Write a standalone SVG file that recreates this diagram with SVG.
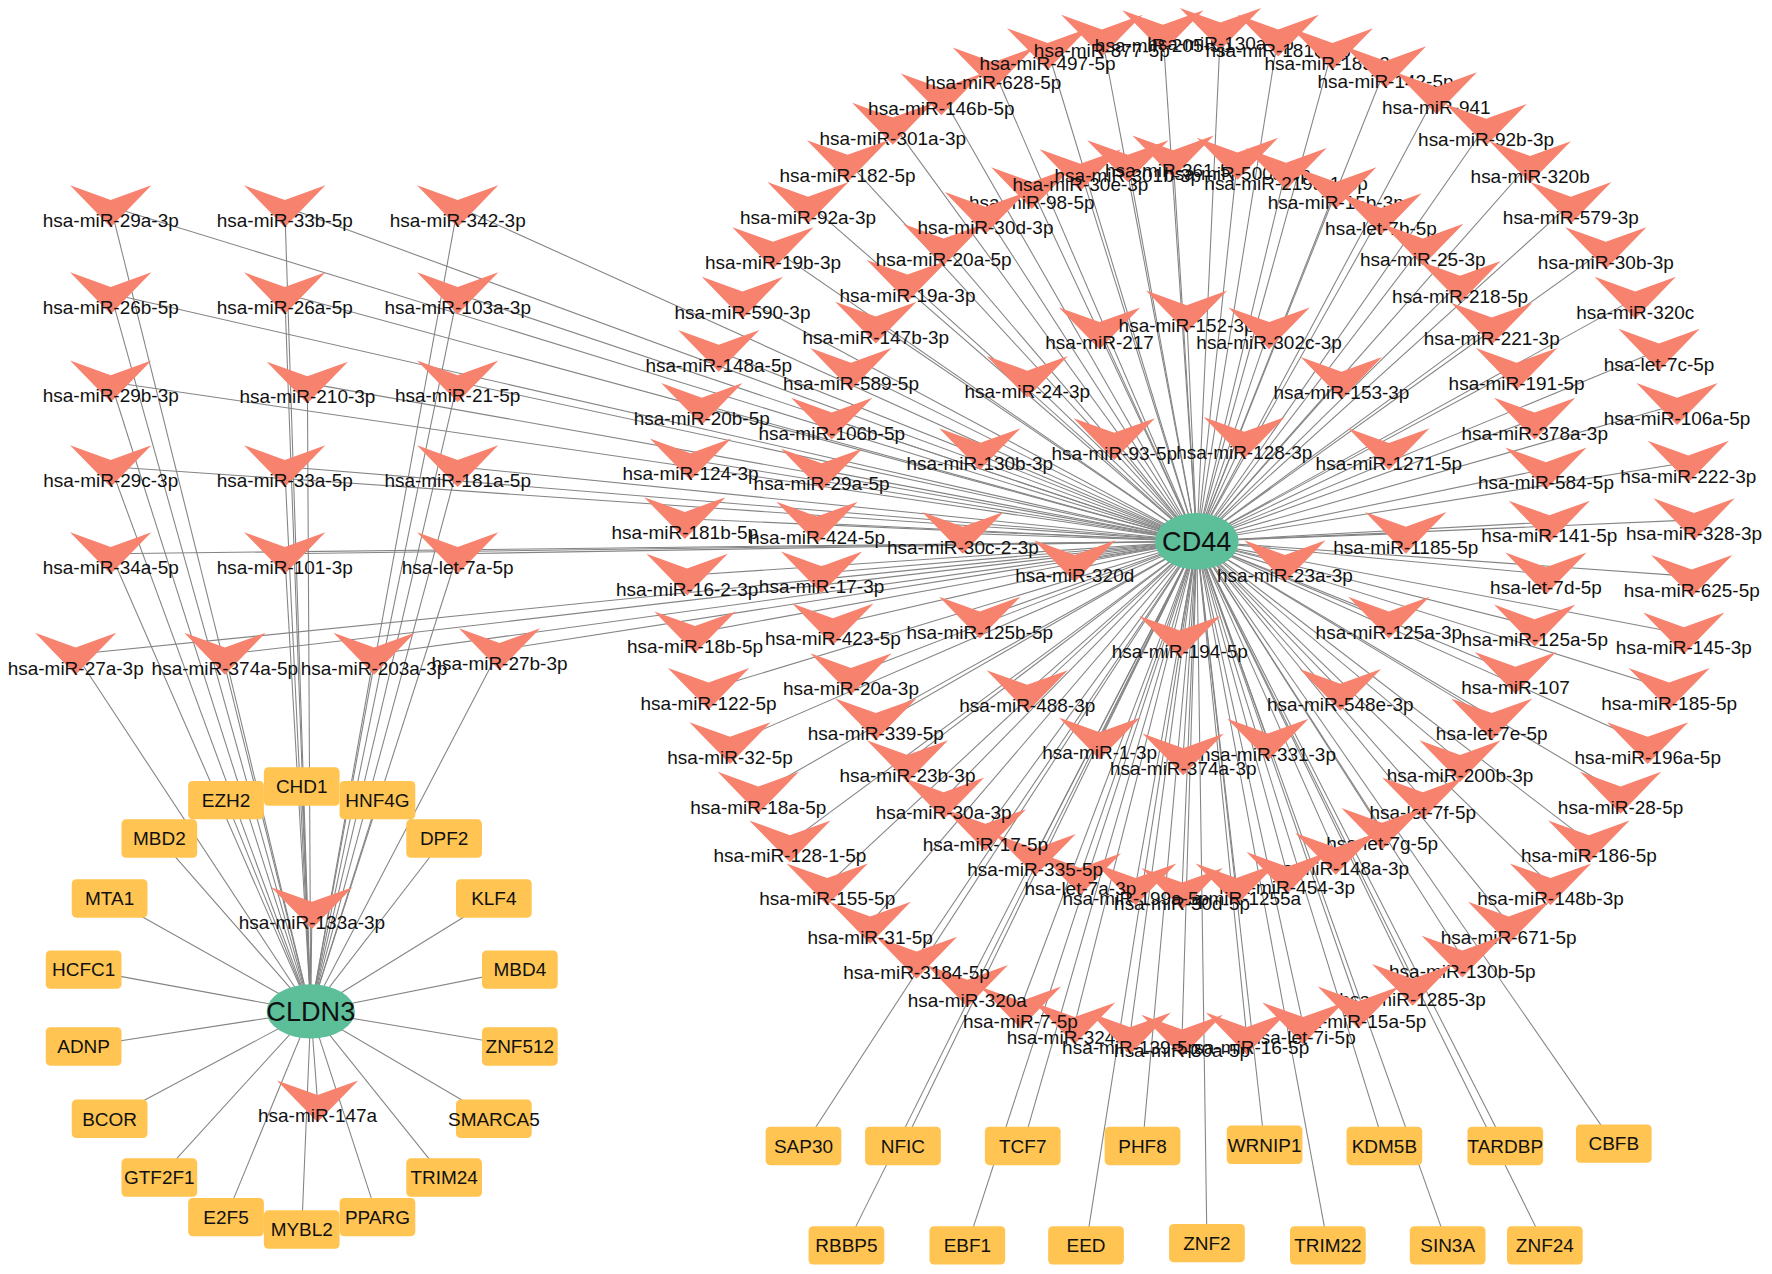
<svg xmlns="http://www.w3.org/2000/svg" width="1772" height="1274" viewBox="0 0 1772 1274">
<style>
.e line{stroke:#848484;stroke-width:0.95}
.g{fill:#FFC451}
.h{fill:#5DBE9A}
text{font-family:"Liberation Sans",Arial,sans-serif;font-size:16.8px;fill:#111;text-anchor:middle}
.ht{font-size:24px}
</style>
<defs><path id="v" fill="#F7826E" d="M-36,-31L0,-18L36,-31L0,6Z"/></defs>
<rect width="1772" height="1274" fill="#fff"/>
<g transform="scale(1.1301)">
<g id="connectors" class="e">
<g id="to-CLDN3">
<line x1="98" y1="183" x2="275" y2="895"/><line x1="252" y1="183" x2="275" y2="895"/><line x1="405" y1="183" x2="275" y2="895"/>
<line x1="98" y1="260" x2="275" y2="895"/><line x1="252" y1="260" x2="275" y2="895"/><line x1="405" y1="260" x2="275" y2="895"/>
<line x1="98" y1="338" x2="275" y2="895"/><line x1="272" y1="339" x2="275" y2="895"/><line x1="405" y1="338" x2="275" y2="895"/>
<line x1="98" y1="413" x2="275" y2="895"/><line x1="252" y1="413" x2="275" y2="895"/><line x1="405" y1="413" x2="275" y2="895"/>
<line x1="98" y1="490" x2="275" y2="895"/><line x1="252" y1="490" x2="275" y2="895"/><line x1="405" y1="490" x2="275" y2="895"/>
<line x1="67" y1="579" x2="275" y2="895"/><line x1="199" y1="579" x2="275" y2="895"/><line x1="331" y1="579" x2="275" y2="895"/><line x1="442" y1="575" x2="275" y2="895"/>
<line x1="276" y1="804" x2="275" y2="895"/><line x1="281" y1="975" x2="275" y2="895"/>
<line x1="267" y1="696" x2="275" y2="895"/><line x1="200" y1="708" x2="275" y2="895"/><line x1="334" y1="708" x2="275" y2="895"/>
<line x1="141" y1="742" x2="275" y2="895"/><line x1="393" y1="742" x2="275" y2="895"/><line x1="97" y1="795" x2="275" y2="895"/>
<line x1="437" y1="795" x2="275" y2="895"/><line x1="74" y1="858" x2="275" y2="895"/><line x1="460" y1="858" x2="275" y2="895"/>
<line x1="74" y1="926" x2="275" y2="895"/><line x1="460" y1="926" x2="275" y2="895"/><line x1="97" y1="990" x2="275" y2="895"/>
<line x1="437" y1="990" x2="275" y2="895"/><line x1="141" y1="1042" x2="275" y2="895"/><line x1="393" y1="1042" x2="275" y2="895"/>
<line x1="200" y1="1077" x2="275" y2="895"/><line x1="334" y1="1077" x2="275" y2="895"/><line x1="267" y1="1088" x2="275" y2="895"/>
</g>
<g id="to-CD44">
<line x1="98" y1="183" x2="1059" y2="479"/><line x1="252" y1="183" x2="1059" y2="479"/><line x1="405" y1="183" x2="1059" y2="479"/>
<line x1="98" y1="260" x2="1059" y2="479"/><line x1="252" y1="260" x2="1059" y2="479"/><line x1="405" y1="260" x2="1059" y2="479"/>
<line x1="98" y1="338" x2="1059" y2="479"/><line x1="272" y1="339" x2="1059" y2="479"/><line x1="405" y1="338" x2="1059" y2="479"/>
<line x1="98" y1="413" x2="1059" y2="479"/><line x1="252" y1="413" x2="1059" y2="479"/><line x1="405" y1="413" x2="1059" y2="479"/>
<line x1="98" y1="490" x2="1059" y2="479"/><line x1="252" y1="490" x2="1059" y2="479"/><line x1="405" y1="490" x2="1059" y2="479"/>
<line x1="67" y1="579" x2="1059" y2="479"/><line x1="199" y1="579" x2="1059" y2="479"/><line x1="331" y1="579" x2="1059" y2="479"/><line x1="442" y1="575" x2="1059" y2="479"/>
<line x1="711" y1="1014" x2="1059" y2="479"/><line x1="799" y1="1014" x2="1059" y2="479"/><line x1="905" y1="1014" x2="1059" y2="479"/>
<line x1="1011" y1="1014" x2="1059" y2="479"/><line x1="1119" y1="1013" x2="1059" y2="479"/><line x1="1225" y1="1014" x2="1059" y2="479"/>
<line x1="1332" y1="1014" x2="1059" y2="479"/><line x1="1428" y1="1012" x2="1059" y2="479"/><line x1="749" y1="1102" x2="1059" y2="479"/>
<line x1="856" y1="1102" x2="1059" y2="479"/><line x1="961" y1="1102" x2="1059" y2="479"/><line x1="1068" y1="1100" x2="1059" y2="479"/>
<line x1="1175" y1="1102" x2="1059" y2="479"/><line x1="1281" y1="1102" x2="1059" y2="479"/><line x1="1367" y1="1102" x2="1059" y2="479"/>
<line x1="833" y1="84" x2="1059" y2="479"/><line x1="879" y1="61" x2="1059" y2="479"/><line x1="927" y1="44" x2="1059" y2="479"/>
<line x1="975" y1="32" x2="1059" y2="479"/><line x1="1029" y1="28" x2="1059" y2="479"/><line x1="1080" y1="26" x2="1059" y2="479"/>
<line x1="1131" y1="32" x2="1059" y2="479"/><line x1="1179" y1="44" x2="1059" y2="479"/><line x1="1226" y1="60" x2="1059" y2="479"/>
<line x1="1271" y1="83" x2="1059" y2="479"/><line x1="1315" y1="111" x2="1059" y2="479"/><line x1="1354" y1="144" x2="1059" y2="479"/>
<line x1="1390" y1="180" x2="1059" y2="479"/><line x1="1421" y1="220" x2="1059" y2="479"/><line x1="1447" y1="264" x2="1059" y2="479"/>
<line x1="1468" y1="310" x2="1059" y2="479"/><line x1="1484" y1="358" x2="1059" y2="479"/><line x1="1494" y1="409" x2="1059" y2="479"/>
<line x1="1499" y1="460" x2="1059" y2="479"/><line x1="1497" y1="510" x2="1059" y2="479"/><line x1="1490" y1="561" x2="1059" y2="479"/>
<line x1="1477" y1="610" x2="1059" y2="479"/><line x1="1458" y1="658" x2="1059" y2="479"/><line x1="1434" y1="702" x2="1059" y2="479"/>
<line x1="1406" y1="745" x2="1059" y2="479"/><line x1="1372" y1="783" x2="1059" y2="479"/><line x1="1335" y1="817" x2="1059" y2="479"/>
<line x1="1294" y1="847" x2="1059" y2="479"/><line x1="1250" y1="872" x2="1059" y2="479"/><line x1="1202" y1="892" x2="1059" y2="479"/>
<line x1="1153" y1="906" x2="1059" y2="479"/><line x1="1103" y1="915" x2="1059" y2="479"/><line x1="1046" y1="917" x2="1059" y2="479"/>
<line x1="1000" y1="915" x2="1059" y2="479"/><line x1="951" y1="906" x2="1059" y2="479"/><line x1="903" y1="892" x2="1059" y2="479"/>
<line x1="856" y1="873" x2="1059" y2="479"/><line x1="811" y1="848" x2="1059" y2="479"/><line x1="770" y1="817" x2="1059" y2="479"/>
<line x1="732" y1="783" x2="1059" y2="479"/><line x1="699" y1="745" x2="1059" y2="479"/><line x1="671" y1="702" x2="1059" y2="479"/>
<line x1="646" y1="658" x2="1059" y2="479"/><line x1="627" y1="610" x2="1059" y2="479"/><line x1="615" y1="560" x2="1059" y2="479"/>
<line x1="608" y1="509" x2="1059" y2="479"/><line x1="606" y1="459" x2="1059" y2="479"/><line x1="611" y1="407" x2="1059" y2="479"/>
<line x1="621" y1="358" x2="1059" y2="479"/><line x1="636" y1="311" x2="1059" y2="479"/><line x1="657" y1="264" x2="1059" y2="479"/>
<line x1="684" y1="220" x2="1059" y2="479"/><line x1="715" y1="180" x2="1059" y2="479"/><line x1="750" y1="143" x2="1059" y2="479"/>
<line x1="790" y1="110" x2="1059" y2="479"/>
<line x1="956" y1="151" x2="1059" y2="479"/><line x1="998" y1="143" x2="1059" y2="479"/><line x1="1038" y1="139" x2="1059" y2="479"/>
<line x1="1095" y1="141" x2="1059" y2="479"/><line x1="1138" y1="150" x2="1059" y2="479"/><line x1="1182" y1="167" x2="1059" y2="479"/>
<line x1="1222" y1="190" x2="1059" y2="479"/><line x1="1259" y1="217" x2="1059" y2="479"/><line x1="1292" y1="250" x2="1059" y2="479"/>
<line x1="1320" y1="287" x2="1059" y2="479"/><line x1="1342" y1="327" x2="1059" y2="479"/><line x1="1358" y1="371" x2="1059" y2="479"/>
<line x1="1368" y1="415" x2="1059" y2="479"/><line x1="1371" y1="462" x2="1059" y2="479"/><line x1="1368" y1="508" x2="1059" y2="479"/>
<line x1="1358" y1="554" x2="1059" y2="479"/><line x1="1341" y1="596" x2="1059" y2="479"/><line x1="1320" y1="637" x2="1059" y2="479"/>
<line x1="1292" y1="674" x2="1059" y2="479"/><line x1="1259" y1="707" x2="1059" y2="479"/><line x1="1223" y1="734" x2="1059" y2="479"/>
<line x1="1182" y1="756" x2="1059" y2="479"/><line x1="1139" y1="773" x2="1059" y2="479"/><line x1="1094" y1="783" x2="1059" y2="479"/>
<line x1="1046" y1="787" x2="1059" y2="479"/><line x1="1005" y1="783" x2="1059" y2="479"/><line x1="956" y1="774" x2="1059" y2="479"/>
<line x1="916" y1="757" x2="1059" y2="479"/><line x1="872" y1="735" x2="1059" y2="479"/><line x1="835" y1="707" x2="1059" y2="479"/>
<line x1="803" y1="674" x2="1059" y2="479"/><line x1="775" y1="637" x2="1059" y2="479"/><line x1="753" y1="597" x2="1059" y2="479"/>
<line x1="737" y1="553" x2="1059" y2="479"/><line x1="727" y1="507" x2="1059" y2="479"/><line x1="723" y1="463" x2="1059" y2="479"/>
<line x1="727" y1="416" x2="1059" y2="479"/><line x1="736" y1="371" x2="1059" y2="479"/><line x1="753" y1="327" x2="1059" y2="479"/>
<line x1="775" y1="286" x2="1059" y2="479"/><line x1="803" y1="249" x2="1059" y2="479"/><line x1="835" y1="217" x2="1059" y2="479"/>
<line x1="872" y1="189" x2="1059" y2="479"/><line x1="913" y1="167" x2="1059" y2="479"/>
<line x1="973" y1="291" x2="1059" y2="479"/><line x1="1050" y1="276" x2="1059" y2="479"/><line x1="1123" y1="291" x2="1059" y2="479"/>
<line x1="1187" y1="335" x2="1059" y2="479"/><line x1="1229" y1="398" x2="1059" y2="479"/><line x1="1101" y1="388" x2="1059" y2="479"/>
<line x1="986" y1="389" x2="1059" y2="479"/><line x1="909" y1="334" x2="1059" y2="479"/><line x1="867" y1="398" x2="1059" y2="479"/>
<line x1="852" y1="472" x2="1059" y2="479"/><line x1="951" y1="497" x2="1059" y2="479"/><line x1="867" y1="547" x2="1059" y2="479"/>
<line x1="909" y1="612" x2="1059" y2="479"/><line x1="973" y1="654" x2="1059" y2="479"/><line x1="1047" y1="668" x2="1059" y2="479"/>
<line x1="1122" y1="655" x2="1059" y2="479"/><line x1="1044" y1="564" x2="1059" y2="479"/><line x1="1186" y1="611" x2="1059" y2="479"/>
<line x1="1229" y1="547" x2="1059" y2="479"/><line x1="1137" y1="497" x2="1059" y2="479"/><line x1="1244" y1="472" x2="1059" y2="479"/>
</g>
</g>

<g id="genes-CLDN3">
<g id="CHD1"><rect class="g" x="233.5" y="679" width="67" height="34" rx="4"/><text x="267" y="702">CHD1</text></g>
<g id="EZH2"><rect class="g" x="166.5" y="691" width="67" height="34" rx="4"/><text x="200" y="714">EZH2</text></g>
<g id="HNF4G"><rect class="g" x="300.5" y="691" width="67" height="34" rx="4"/><text x="334" y="714">HNF4G</text></g>
<g id="MBD2"><rect class="g" x="107.5" y="725" width="67" height="34" rx="4"/><text x="141" y="748">MBD2</text></g>
<g id="DPF2"><rect class="g" x="359.5" y="725" width="67" height="34" rx="4"/><text x="393" y="748">DPF2</text></g>
<g id="MTA1"><rect class="g" x="63.5" y="778" width="67" height="34" rx="4"/><text x="97" y="801">MTA1</text></g>
<g id="KLF4"><rect class="g" x="403.5" y="778" width="67" height="34" rx="4"/><text x="437" y="801">KLF4</text></g>
<g id="HCFC1"><rect class="g" x="40.5" y="841" width="67" height="34" rx="4"/><text x="74" y="864">HCFC1</text></g>
<g id="MBD4"><rect class="g" x="426.5" y="841" width="67" height="34" rx="4"/><text x="460" y="864">MBD4</text></g>
<g id="ADNP"><rect class="g" x="40.5" y="909" width="67" height="34" rx="4"/><text x="74" y="932">ADNP</text></g>
<g id="ZNF512"><rect class="g" x="426.5" y="909" width="67" height="34" rx="4"/><text x="460" y="932">ZNF512</text></g>
<g id="BCOR"><rect class="g" x="63.5" y="973" width="67" height="34" rx="4"/><text x="97" y="996">BCOR</text></g>
<g id="SMARCA5"><rect class="g" x="403.5" y="973" width="67" height="34" rx="4"/><text x="437" y="996">SMARCA5</text></g>
<g id="GTF2F1"><rect class="g" x="107.5" y="1025" width="67" height="34" rx="4"/><text x="141" y="1048">GTF2F1</text></g>
<g id="TRIM24"><rect class="g" x="359.5" y="1025" width="67" height="34" rx="4"/><text x="393" y="1048">TRIM24</text></g>
<g id="E2F5"><rect class="g" x="166.5" y="1060" width="67" height="34" rx="4"/><text x="200" y="1083">E2F5</text></g>
<g id="PPARG"><rect class="g" x="300.5" y="1060" width="67" height="34" rx="4"/><text x="334" y="1083">PPARG</text></g>
<g id="MYBL2"><rect class="g" x="233.5" y="1071" width="67" height="34" rx="4"/><text x="267" y="1094">MYBL2</text></g>
</g>

<g id="genes-CD44">
<g id="SAP30"><rect class="g" x="677.5" y="997" width="67" height="34" rx="4"/><text x="711" y="1020">SAP30</text></g>
<g id="NFIC"><rect class="g" x="765.5" y="997" width="67" height="34" rx="4"/><text x="799" y="1020">NFIC</text></g>
<g id="TCF7"><rect class="g" x="871.5" y="997" width="67" height="34" rx="4"/><text x="905" y="1020">TCF7</text></g>
<g id="PHF8"><rect class="g" x="977.5" y="997" width="67" height="34" rx="4"/><text x="1011" y="1020">PHF8</text></g>
<g id="WRNIP1"><rect class="g" x="1085.5" y="996" width="67" height="34" rx="4"/><text x="1119" y="1019">WRNIP1</text></g>
<g id="KDM5B"><rect class="g" x="1191.5" y="997" width="67" height="34" rx="4"/><text x="1225" y="1020">KDM5B</text></g>
<g id="TARDBP"><rect class="g" x="1298.5" y="997" width="67" height="34" rx="4"/><text x="1332" y="1020">TARDBP</text></g>
<g id="CBFB"><rect class="g" x="1394.5" y="995" width="67" height="34" rx="4"/><text x="1428" y="1018">CBFB</text></g>
<g id="RBBP5"><rect class="g" x="715.5" y="1085" width="67" height="34" rx="4"/><text x="749" y="1108">RBBP5</text></g>
<g id="EBF1"><rect class="g" x="822.5" y="1085" width="67" height="34" rx="4"/><text x="856" y="1108">EBF1</text></g>
<g id="EED"><rect class="g" x="927.5" y="1085" width="67" height="34" rx="4"/><text x="961" y="1108">EED</text></g>
<g id="ZNF2"><rect class="g" x="1034.5" y="1083" width="67" height="34" rx="4"/><text x="1068" y="1106">ZNF2</text></g>
<g id="TRIM22"><rect class="g" x="1141.5" y="1085" width="67" height="34" rx="4"/><text x="1175" y="1108">TRIM22</text></g>
<g id="SIN3A"><rect class="g" x="1247.5" y="1085" width="67" height="34" rx="4"/><text x="1281" y="1108">SIN3A</text></g>
<g id="ZNF24"><rect class="g" x="1333.5" y="1085" width="67" height="34" rx="4"/><text x="1367" y="1108">ZNF24</text></g>
</g>

<g id="mirnas-CLDN3">
<g id="hsa-miR-29a-3p"><use href="#v" x="98" y="195"/><text x="98" y="201">hsa-miR-29a-3p</text></g>
<g id="hsa-miR-33b-5p"><use href="#v" x="252" y="195"/><text x="252" y="201">hsa-miR-33b-5p</text></g>
<g id="hsa-miR-342-3p"><use href="#v" x="405" y="195"/><text x="405" y="201">hsa-miR-342-3p</text></g>
<g id="hsa-miR-26b-5p"><use href="#v" x="98" y="272"/><text x="98" y="278">hsa-miR-26b-5p</text></g>
<g id="hsa-miR-26a-5p"><use href="#v" x="252" y="272"/><text x="252" y="278">hsa-miR-26a-5p</text></g>
<g id="hsa-miR-103a-3p"><use href="#v" x="405" y="272"/><text x="405" y="278">hsa-miR-103a-3p</text></g>
<g id="hsa-miR-29b-3p"><use href="#v" x="98" y="350"/><text x="98" y="356">hsa-miR-29b-3p</text></g>
<g id="hsa-miR-210-3p"><use href="#v" x="272" y="351"/><text x="272" y="357">hsa-miR-210-3p</text></g>
<g id="hsa-miR-21-5p"><use href="#v" x="405" y="350"/><text x="405" y="356">hsa-miR-21-5p</text></g>
<g id="hsa-miR-29c-3p"><use href="#v" x="98" y="425"/><text x="98" y="431">hsa-miR-29c-3p</text></g>
<g id="hsa-miR-33a-5p"><use href="#v" x="252" y="425"/><text x="252" y="431">hsa-miR-33a-5p</text></g>
<g id="hsa-miR-181a-5p"><use href="#v" x="405" y="425"/><text x="405" y="431">hsa-miR-181a-5p</text></g>
<g id="hsa-miR-34a-5p"><use href="#v" x="98" y="502"/><text x="98" y="508">hsa-miR-34a-5p</text></g>
<g id="hsa-miR-101-3p"><use href="#v" x="252" y="502"/><text x="252" y="508">hsa-miR-101-3p</text></g>
<g id="hsa-let-7a-5p"><use href="#v" x="405" y="502"/><text x="405" y="508">hsa-let-7a-5p</text></g>
<g id="hsa-miR-27a-3p"><use href="#v" x="67" y="591"/><text x="67" y="597">hsa-miR-27a-3p</text></g>
<g id="hsa-miR-374a-5p"><use href="#v" x="199" y="591"/><text x="199" y="597">hsa-miR-374a-5p</text></g>
<g id="hsa-miR-203a-3p"><use href="#v" x="331" y="591"/><text x="331" y="597">hsa-miR-203a-3p</text></g>
<g id="hsa-miR-27b-3p"><use href="#v" x="442" y="587"/><text x="442" y="593">hsa-miR-27b-3p</text></g>
<g id="hsa-miR-133a-3p"><use href="#v" x="276" y="816"/><text x="276" y="822">hsa-miR-133a-3p</text></g>
<g id="hsa-miR-147a"><use href="#v" x="281" y="987"/><text x="281" y="993">hsa-miR-147a</text></g>
</g>

<g id="mirnas-CD44-inner">
<g id="hsa-miR-217"><use href="#v" x="973" y="303"/><text x="973" y="309">hsa-miR-217</text></g>
<g id="hsa-miR-152-3p"><use href="#v" x="1050" y="288"/><text x="1050" y="294">hsa-miR-152-3p</text></g>
<g id="hsa-miR-302c-3p"><use href="#v" x="1123" y="303"/><text x="1123" y="309">hsa-miR-302c-3p</text></g>
<g id="hsa-miR-153-3p"><use href="#v" x="1187" y="347"/><text x="1187" y="353">hsa-miR-153-3p</text></g>
<g id="hsa-miR-24-3p"><use href="#v" x="909" y="346"/><text x="909" y="352">hsa-miR-24-3p</text></g>
<g id="hsa-miR-130b-3p"><use href="#v" x="867" y="410"/><text x="867" y="416">hsa-miR-130b-3p</text></g>
<g id="hsa-miR-93-5p"><use href="#v" x="986" y="401"/><text x="986" y="407">hsa-miR-93-5p</text></g>
<g id="hsa-miR-128-3p"><use href="#v" x="1101" y="400"/><text x="1101" y="406">hsa-miR-128-3p</text></g>
<g id="hsa-miR-1271-5p"><use href="#v" x="1229" y="410"/><text x="1229" y="416">hsa-miR-1271-5p</text></g>
<g id="hsa-miR-30c-2-3p"><use href="#v" x="852" y="484"/><text x="852" y="490">hsa-miR-30c-2-3p</text></g>
<g id="hsa-miR-320d"><use href="#v" x="951" y="509"/><text x="951" y="515">hsa-miR-320d</text></g>
<g id="hsa-miR-1185-5p"><use href="#v" x="1244" y="484"/><text x="1244" y="490">hsa-miR-1185-5p</text></g>
<g id="hsa-miR-23a-3p"><use href="#v" x="1137" y="509"/><text x="1137" y="515">hsa-miR-23a-3p</text></g>
<g id="hsa-miR-125b-5p"><use href="#v" x="867" y="559"/><text x="867" y="565">hsa-miR-125b-5p</text></g>
<g id="hsa-miR-125a-3p"><use href="#v" x="1229" y="559"/><text x="1229" y="565">hsa-miR-125a-3p</text></g>
<g id="hsa-miR-194-5p"><use href="#v" x="1044" y="576"/><text x="1044" y="582">hsa-miR-194-5p</text></g>
<g id="hsa-miR-488-3p"><use href="#v" x="909" y="624"/><text x="909" y="630">hsa-miR-488-3p</text></g>
<g id="hsa-miR-548e-3p"><use href="#v" x="1186" y="623"/><text x="1186" y="629">hsa-miR-548e-3p</text></g>
<g id="hsa-miR-1-3p"><use href="#v" x="973" y="666"/><text x="973" y="672">hsa-miR-1-3p</text></g>
<g id="hsa-miR-331-3p"><use href="#v" x="1122" y="667"/><text x="1122" y="673">hsa-miR-331-3p</text></g>
<g id="hsa-miR-374a-3p"><use href="#v" x="1047" y="680"/><text x="1047" y="686">hsa-miR-374a-3p</text></g>
</g>

<g id="mirnas-CD44-middle">
<g id="hsa-miR-98-5p"><use href="#v" x="913" y="179"/><text x="913" y="185">hsa-miR-98-5p</text></g>
<g id="hsa-miR-30e-3p"><use href="#v" x="956" y="163"/><text x="956" y="169">hsa-miR-30e-3p</text></g>
<g id="hsa-miR-301b-3p"><use href="#v" x="998" y="155"/><text x="998" y="161">hsa-miR-301b-3p</text></g>
<g id="hsa-miR-361-5p"><use href="#v" x="1038" y="151"/><text x="1038" y="157">hsa-miR-361-5p</text></g>
<g id="hsa-miR-500a-3p"><use href="#v" x="1095" y="153"/><text x="1095" y="159">hsa-miR-500a-3p</text></g>
<g id="hsa-miR-219a-1-3p"><use href="#v" x="1138" y="162"/><text x="1138" y="168">hsa-miR-219a-1-3p</text></g>
<g id="hsa-miR-15b-3p"><use href="#v" x="1182" y="179"/><text x="1182" y="185">hsa-miR-15b-3p</text></g>
<g id="hsa-let-7b-5p"><use href="#v" x="1222" y="202"/><text x="1222" y="208">hsa-let-7b-5p</text></g>
<g id="hsa-miR-25-3p"><use href="#v" x="1259" y="229"/><text x="1259" y="235">hsa-miR-25-3p</text></g>
<g id="hsa-miR-218-5p"><use href="#v" x="1292" y="262"/><text x="1292" y="268">hsa-miR-218-5p</text></g>
<g id="hsa-miR-221-3p"><use href="#v" x="1320" y="299"/><text x="1320" y="305">hsa-miR-221-3p</text></g>
<g id="hsa-miR-191-5p"><use href="#v" x="1342" y="339"/><text x="1342" y="345">hsa-miR-191-5p</text></g>
<g id="hsa-miR-378a-3p"><use href="#v" x="1358" y="383"/><text x="1358" y="389">hsa-miR-378a-3p</text></g>
<g id="hsa-miR-584-5p"><use href="#v" x="1368" y="427"/><text x="1368" y="433">hsa-miR-584-5p</text></g>
<g id="hsa-miR-141-5p"><use href="#v" x="1371" y="474"/><text x="1371" y="480">hsa-miR-141-5p</text></g>
<g id="hsa-let-7d-5p"><use href="#v" x="1368" y="520"/><text x="1368" y="526">hsa-let-7d-5p</text></g>
<g id="hsa-miR-125a-5p"><use href="#v" x="1358" y="566"/><text x="1358" y="572">hsa-miR-125a-5p</text></g>
<g id="hsa-miR-107"><use href="#v" x="1341" y="608"/><text x="1341" y="614">hsa-miR-107</text></g>
<g id="hsa-let-7e-5p"><use href="#v" x="1320" y="649"/><text x="1320" y="655">hsa-let-7e-5p</text></g>
<g id="hsa-miR-200b-3p"><use href="#v" x="1292" y="686"/><text x="1292" y="692">hsa-miR-200b-3p</text></g>
<g id="hsa-let-7f-5p"><use href="#v" x="1259" y="719"/><text x="1259" y="725">hsa-let-7f-5p</text></g>
<g id="hsa-let-7g-5p"><use href="#v" x="1223" y="746"/><text x="1223" y="752">hsa-let-7g-5p</text></g>
<g id="hsa-miR-148a-3p"><use href="#v" x="1182" y="768"/><text x="1182" y="774">hsa-miR-148a-3p</text></g>
<g id="hsa-miR-454-3p"><use href="#v" x="1139" y="785"/><text x="1139" y="791">hsa-miR-454-3p</text></g>
<g id="hsa-miR-1255a"><use href="#v" x="1094" y="795"/><text x="1094" y="801">hsa-miR-1255a</text></g>
<g id="hsa-miR-30d-5p"><use href="#v" x="1046" y="799"/><text x="1046" y="805">hsa-miR-30d-5p</text></g>
<g id="hsa-miR-199a-5p"><use href="#v" x="1005" y="795"/><text x="1005" y="801">hsa-miR-199a-5p</text></g>
<g id="hsa-let-7a-3p"><use href="#v" x="956" y="786"/><text x="956" y="792">hsa-let-7a-3p</text></g>
<g id="hsa-miR-335-5p"><use href="#v" x="916" y="769"/><text x="916" y="775">hsa-miR-335-5p</text></g>
<g id="hsa-miR-17-5p"><use href="#v" x="872" y="747"/><text x="872" y="753">hsa-miR-17-5p</text></g>
<g id="hsa-miR-30a-3p"><use href="#v" x="835" y="719"/><text x="835" y="725">hsa-miR-30a-3p</text></g>
<g id="hsa-miR-23b-3p"><use href="#v" x="803" y="686"/><text x="803" y="692">hsa-miR-23b-3p</text></g>
<g id="hsa-miR-339-5p"><use href="#v" x="775" y="649"/><text x="775" y="655">hsa-miR-339-5p</text></g>
<g id="hsa-miR-20a-3p"><use href="#v" x="753" y="609"/><text x="753" y="615">hsa-miR-20a-3p</text></g>
<g id="hsa-miR-423-5p"><use href="#v" x="737" y="565"/><text x="737" y="571">hsa-miR-423-5p</text></g>
<g id="hsa-miR-17-3p"><use href="#v" x="727" y="519"/><text x="727" y="525">hsa-miR-17-3p</text></g>
<g id="hsa-miR-424-5p"><use href="#v" x="723" y="475"/><text x="723" y="481">hsa-miR-424-5p</text></g>
<g id="hsa-miR-29a-5p"><use href="#v" x="727" y="428"/><text x="727" y="434">hsa-miR-29a-5p</text></g>
<g id="hsa-miR-106b-5p"><use href="#v" x="736" y="383"/><text x="736" y="389">hsa-miR-106b-5p</text></g>
<g id="hsa-miR-589-5p"><use href="#v" x="753" y="339"/><text x="753" y="345">hsa-miR-589-5p</text></g>
<g id="hsa-miR-147b-3p"><use href="#v" x="775" y="298"/><text x="775" y="304">hsa-miR-147b-3p</text></g>
<g id="hsa-miR-19a-3p"><use href="#v" x="803" y="261"/><text x="803" y="267">hsa-miR-19a-3p</text></g>
<g id="hsa-miR-20a-5p"><use href="#v" x="835" y="229"/><text x="835" y="235">hsa-miR-20a-5p</text></g>
<g id="hsa-miR-30d-3p"><use href="#v" x="872" y="201"/><text x="872" y="207">hsa-miR-30d-3p</text></g>
</g>

<g id="mirnas-CD44-outer">
<g id="hsa-miR-301a-3p"><use href="#v" x="790" y="122"/><text x="790" y="128">hsa-miR-301a-3p</text></g>
<g id="hsa-miR-146b-5p"><use href="#v" x="833" y="96"/><text x="833" y="102">hsa-miR-146b-5p</text></g>
<g id="hsa-miR-628-5p"><use href="#v" x="879" y="73"/><text x="879" y="79">hsa-miR-628-5p</text></g>
<g id="hsa-miR-497-5p"><use href="#v" x="927" y="56"/><text x="927" y="62">hsa-miR-497-5p</text></g>
<g id="hsa-miR-877-5p"><use href="#v" x="975" y="44"/><text x="975" y="50">hsa-miR-877-5p</text></g>
<g id="hsa-miR-205-5p"><use href="#v" x="1029" y="40"/><text x="1029" y="46">hsa-miR-205-5p</text></g>
<g id="hsa-miR-130a-3p"><use href="#v" x="1080" y="38"/><text x="1080" y="44">hsa-miR-130a-3p</text></g>
<g id="hsa-miR-181c-5p"><use href="#v" x="1131" y="44"/><text x="1131" y="50">hsa-miR-181c-5p</text></g>
<g id="hsa-miR-183-3p"><use href="#v" x="1179" y="56"/><text x="1179" y="62">hsa-miR-183-3p</text></g>
<g id="hsa-miR-142-5p"><use href="#v" x="1226" y="72"/><text x="1226" y="78">hsa-miR-142-5p</text></g>
<g id="hsa-miR-941"><use href="#v" x="1271" y="95"/><text x="1271" y="101">hsa-miR-941</text></g>
<g id="hsa-miR-92b-3p"><use href="#v" x="1315" y="123"/><text x="1315" y="129">hsa-miR-92b-3p</text></g>
<g id="hsa-miR-320b"><use href="#v" x="1354" y="156"/><text x="1354" y="162">hsa-miR-320b</text></g>
<g id="hsa-miR-579-3p"><use href="#v" x="1390" y="192"/><text x="1390" y="198">hsa-miR-579-3p</text></g>
<g id="hsa-miR-30b-3p"><use href="#v" x="1421" y="232"/><text x="1421" y="238">hsa-miR-30b-3p</text></g>
<g id="hsa-miR-320c"><use href="#v" x="1447" y="276"/><text x="1447" y="282">hsa-miR-320c</text></g>
<g id="hsa-let-7c-5p"><use href="#v" x="1468" y="322"/><text x="1468" y="328">hsa-let-7c-5p</text></g>
<g id="hsa-miR-106a-5p"><use href="#v" x="1484" y="370"/><text x="1484" y="376">hsa-miR-106a-5p</text></g>
<g id="hsa-miR-222-3p"><use href="#v" x="1494" y="421"/><text x="1494" y="427">hsa-miR-222-3p</text></g>
<g id="hsa-miR-328-3p"><use href="#v" x="1499" y="472"/><text x="1499" y="478">hsa-miR-328-3p</text></g>
<g id="hsa-miR-625-5p"><use href="#v" x="1497" y="522"/><text x="1497" y="528">hsa-miR-625-5p</text></g>
<g id="hsa-miR-145-3p"><use href="#v" x="1490" y="573"/><text x="1490" y="579">hsa-miR-145-3p</text></g>
<g id="hsa-miR-185-5p"><use href="#v" x="1477" y="622"/><text x="1477" y="628">hsa-miR-185-5p</text></g>
<g id="hsa-miR-196a-5p"><use href="#v" x="1458" y="670"/><text x="1458" y="676">hsa-miR-196a-5p</text></g>
<g id="hsa-miR-28-5p"><use href="#v" x="1434" y="714"/><text x="1434" y="720">hsa-miR-28-5p</text></g>
<g id="hsa-miR-186-5p"><use href="#v" x="1406" y="757"/><text x="1406" y="763">hsa-miR-186-5p</text></g>
<g id="hsa-miR-148b-3p"><use href="#v" x="1372" y="795"/><text x="1372" y="801">hsa-miR-148b-3p</text></g>
<g id="hsa-miR-671-5p"><use href="#v" x="1335" y="829"/><text x="1335" y="835">hsa-miR-671-5p</text></g>
<g id="hsa-miR-130b-5p"><use href="#v" x="1294" y="859"/><text x="1294" y="865">hsa-miR-130b-5p</text></g>
<g id="hsa-miR-1285-3p"><use href="#v" x="1250" y="884"/><text x="1250" y="890">hsa-miR-1285-3p</text></g>
<g id="hsa-miR-15a-5p"><use href="#v" x="1202" y="904"/><text x="1202" y="910">hsa-miR-15a-5p</text></g>
<g id="hsa-let-7i-5p"><use href="#v" x="1153" y="918"/><text x="1153" y="924">hsa-let-7i-5p</text></g>
<g id="hsa-miR-16-5p"><use href="#v" x="1103" y="927"/><text x="1103" y="933">hsa-miR-16-5p</text></g>
<g id="hsa-miR-30a-5p"><use href="#v" x="1046" y="929"/><text x="1046" y="935">hsa-miR-30a-5p</text></g>
<g id="hsa-miR-324-5p"><use href="#v" x="951" y="918"/><text x="951" y="924">hsa-miR-324-5p</text></g>
<g id="hsa-miR-139-5p"><use href="#v" x="1000" y="927"/><text x="1000" y="933">hsa-miR-139-5p</text></g>
<g id="hsa-miR-7-5p"><use href="#v" x="903" y="904"/><text x="903" y="910">hsa-miR-7-5p</text></g>
<g id="hsa-miR-320a"><use href="#v" x="856" y="885"/><text x="856" y="891">hsa-miR-320a</text></g>
<g id="hsa-miR-3184-5p"><use href="#v" x="811" y="860"/><text x="811" y="866">hsa-miR-3184-5p</text></g>
<g id="hsa-miR-31-5p"><use href="#v" x="770" y="829"/><text x="770" y="835">hsa-miR-31-5p</text></g>
<g id="hsa-miR-155-5p"><use href="#v" x="732" y="795"/><text x="732" y="801">hsa-miR-155-5p</text></g>
<g id="hsa-miR-128-1-5p"><use href="#v" x="699" y="757"/><text x="699" y="763">hsa-miR-128-1-5p</text></g>
<g id="hsa-miR-18a-5p"><use href="#v" x="671" y="714"/><text x="671" y="720">hsa-miR-18a-5p</text></g>
<g id="hsa-miR-32-5p"><use href="#v" x="646" y="670"/><text x="646" y="676">hsa-miR-32-5p</text></g>
<g id="hsa-miR-122-5p"><use href="#v" x="627" y="622"/><text x="627" y="628">hsa-miR-122-5p</text></g>
<g id="hsa-miR-18b-5p"><use href="#v" x="615" y="572"/><text x="615" y="578">hsa-miR-18b-5p</text></g>
<g id="hsa-miR-16-2-3p"><use href="#v" x="608" y="521"/><text x="608" y="527">hsa-miR-16-2-3p</text></g>
<g id="hsa-miR-181b-5p"><use href="#v" x="606" y="471"/><text x="606" y="477">hsa-miR-181b-5p</text></g>
<g id="hsa-miR-124-3p"><use href="#v" x="611" y="419"/><text x="611" y="425">hsa-miR-124-3p</text></g>
<g id="hsa-miR-20b-5p"><use href="#v" x="621" y="370"/><text x="621" y="376">hsa-miR-20b-5p</text></g>
<g id="hsa-miR-148a-5p"><use href="#v" x="636" y="323"/><text x="636" y="329">hsa-miR-148a-5p</text></g>
<g id="hsa-miR-590-3p"><use href="#v" x="657" y="276"/><text x="657" y="282">hsa-miR-590-3p</text></g>
<g id="hsa-miR-19b-3p"><use href="#v" x="684" y="232"/><text x="684" y="238">hsa-miR-19b-3p</text></g>
<g id="hsa-miR-92a-3p"><use href="#v" x="715" y="192"/><text x="715" y="198">hsa-miR-92a-3p</text></g>
<g id="hsa-miR-182-5p"><use href="#v" x="750" y="155"/><text x="750" y="161">hsa-miR-182-5p</text></g>
</g>

<g id="CLDN3"><ellipse class="h" cx="275" cy="895" rx="39" ry="24"/><text class="ht" x="275" y="903.5">CLDN3</text></g>
<g id="CD44"><ellipse class="h" cx="1059" cy="479" rx="37" ry="25"/><text class="ht" x="1059" y="487.5">CD44</text></g>
</g>
</svg>
